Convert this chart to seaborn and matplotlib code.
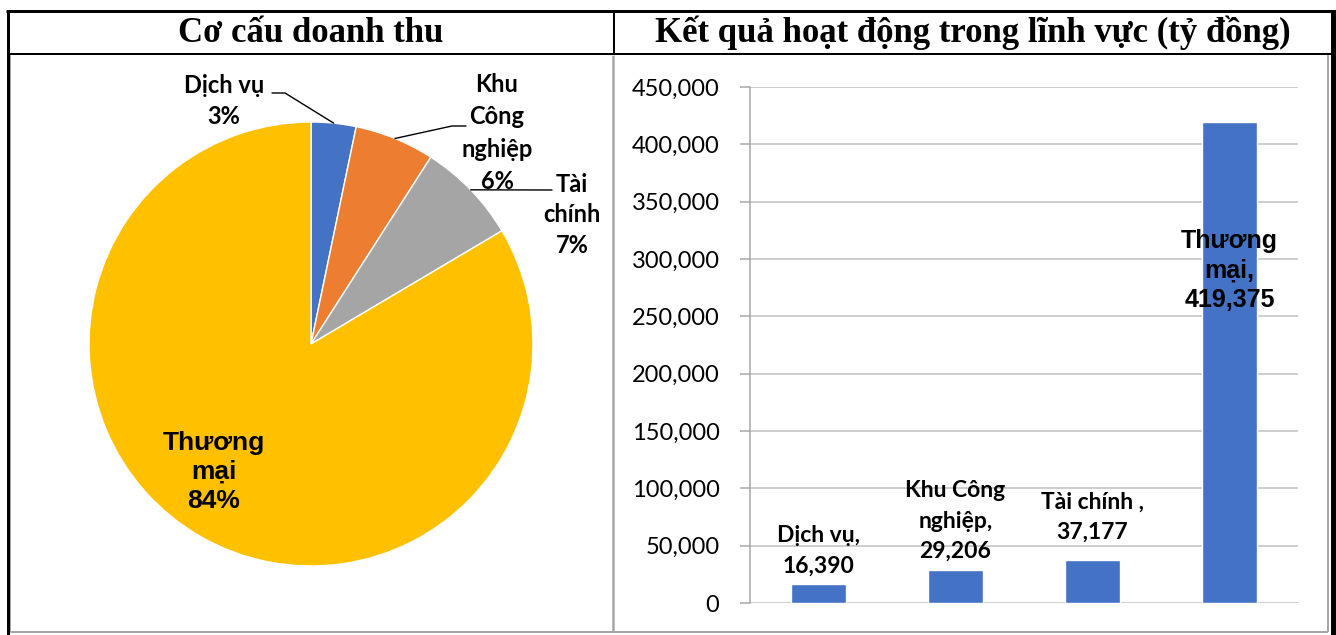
import numpy as np
import pandas as pd
import matplotlib.pyplot as plt
import seaborn as sns
from matplotlib.ticker import FuncFormatter

# data
categories = ["Dịch vụ", "Khu Công nghiệp", "Tài chính", "Thương mại"]
revenue = [16390, 29206, 37177, 419375]  # tỷ đồng
pie_colors = ["#4472C4", "#ED7D31", "#A5A5A5", "#FFC000"]
bar_color = "#4472C4"
pie_labels = ["Dịch vụ\n3%", "Khu\nCông\nnghiệp\n6%", "Tài\nchính\n7%", "Thương\nmại\n84%"]
bar_labels = ["Dịch vụ,\n16,390", "Khu Công\nnghiệp,\n29,206", "Tài chính ,\n37,177", "Thương\nmại,\n419,375"]
left_title = "Cơ cấu doanh thu"
right_title = "Kết quả hoạt động trong lĩnh vực (tỷ đồng)"

sns.set_theme(style="white")
plt.rcParams["font.family"] = ["Lato", "DejaVu Sans"]
plt.rcParams["text.color"] = "black"

W, H = 1336, 635
fig = plt.figure(figsize=(W / 100, H / 100), dpi=100)


def box(l, t, r, b):
    return [l / W, 1 - b / H, (r - l) / W, (b - t) / H]


def px(v):
    return v * 72 / 100


# frame / table lines
frame = fig.add_axes([0, 0, 1, 1])
frame.set_xlim(0, W)
frame.set_ylim(H, 0)
frame.axis("off")
frame.patch.set_alpha(0)
gray = "#A6A6A6"
for xs, ys, c, lw in [
    ([10, 1328], [632, 632], gray, 2),
    ([10, 10], [55, 632], gray, 2),
    ([613, 613], [55, 632], gray, 2.5),
    ([1328, 1328], [55, 632], gray, 2),
    ([6, 1336], [11, 11], "black", 3),
    ([8, 8], [10, 635], "black", 3),
    ([1333, 1333], [10, 635], "black", 5),
    ([8, 1333], [54, 54], "black", 2),
    ([614, 614], [10, 54], "black", 2),
]:
    frame.plot(xs, ys, color=c, lw=px(lw), solid_capstyle="butt")

title_font = dict(family=["Liberation Serif", "DejaVu Serif"], weight="bold", size=25)
frame.text(311, 33, left_title, ha="center", va="center", **title_font)
frame.text(973, 33, right_title, ha="center", va="center", **title_font)

# pie
ax1 = fig.add_axes(box(12, 56, 611, 630))
cx, cy, R = 311, H - 344, 222
wedges, _ = ax1.pie(revenue, colors=pie_colors, startangle=90, counterclock=False,
                    center=(cx, cy), radius=R, frame=True)
ax1.set_xlim(12, 611)
ax1.set_ylim(H - 630, H - 56)
ax1.set_aspect("auto")
ax1.axis("off")

lab_font = dict(family=["Lato", "DejaVu Sans"], weight="bold", size=17, color="black")
label_pos = [(224, H - 101), (497, H - 133), (572, H - 215)]
label_ls = [1.47, 1.5, 1.42]
elbow = [(272, 285, H - 93), (466, 452, H - 126), (552, 552, H - 190)]
for i, w in enumerate(wedges[:3]):
    mid = np.deg2rad((w.theta1 + w.theta2) / 2)
    ex, ey = cx + R * np.cos(mid), cy + R * np.sin(mid)
    ax1.text(*label_pos[i], pie_labels[i], ha="center", va="center",
             linespacing=label_ls[i], **lab_font)
    x0, x1, yl = elbow[i]
    ax1.plot([x0, x1, ex], [yl, yl, ey], color="black", lw=1)
ax1.text(214, H - 472, pie_labels[3], ha="center", va="center", linespacing=1.25,
         family=["Liberation Sans", "DejaVu Sans"], weight="bold", size=19, color="black")

# bars
ax2 = fig.add_axes(box(750, 87, 1298, 603))
df = pd.DataFrame({"cat": categories, "val": revenue})
sns.barplot(data=df, x="cat", y="val", color=bar_color, width=0.4, saturation=1, ax=ax2)
ax2.set_xlim(-0.5, 3.5)
ax2.set_ylim(0, 450000)
ax2.set_yticks(np.arange(0, 450001, 50000))
ax2.yaxis.set_major_formatter(FuncFormatter(lambda v, p: f"{int(v):,}"))
ax2.set_xticks([])
ax2.set_xlabel("")
ax2.set_ylabel("")
ax2.grid(axis="y", color="#BFBFBF", lw=px(1.5))
ax2.set_axisbelow(True)
for s in ["top", "right", "bottom"]:
    ax2.spines[s].set_visible(False)
ax2.spines["left"].set_color("#A6A6A6")
ax2.spines["left"].set_linewidth(px(1.5))
ax2.tick_params(axis="y", left=True, length=7, width=px(1.5), color="#A6A6A6",
                labelsize=17, pad=15, labelcolor="black")

bar_font = dict(family=["Lato", "DejaVu Sans"], weight="bold", size=16.5, color="black")
offsets = [5.5, 5.5, 12.5]
for i, (lab, v) in enumerate(zip(bar_labels[:3], revenue[:3])):
    ax2.annotate(lab, xy=(i, v), xytext=(0, offsets[i]), textcoords="offset points",
                 ha="center", va="bottom", linespacing=1.55, **bar_font)
ax2.text(3, 290000, bar_labels[3], ha="center", va="center", linespacing=1.3,
         family=["Liberation Sans", "DejaVu Sans"], weight="bold", size=18, color="black")

fig.savefig("out.png", dpi=100)
